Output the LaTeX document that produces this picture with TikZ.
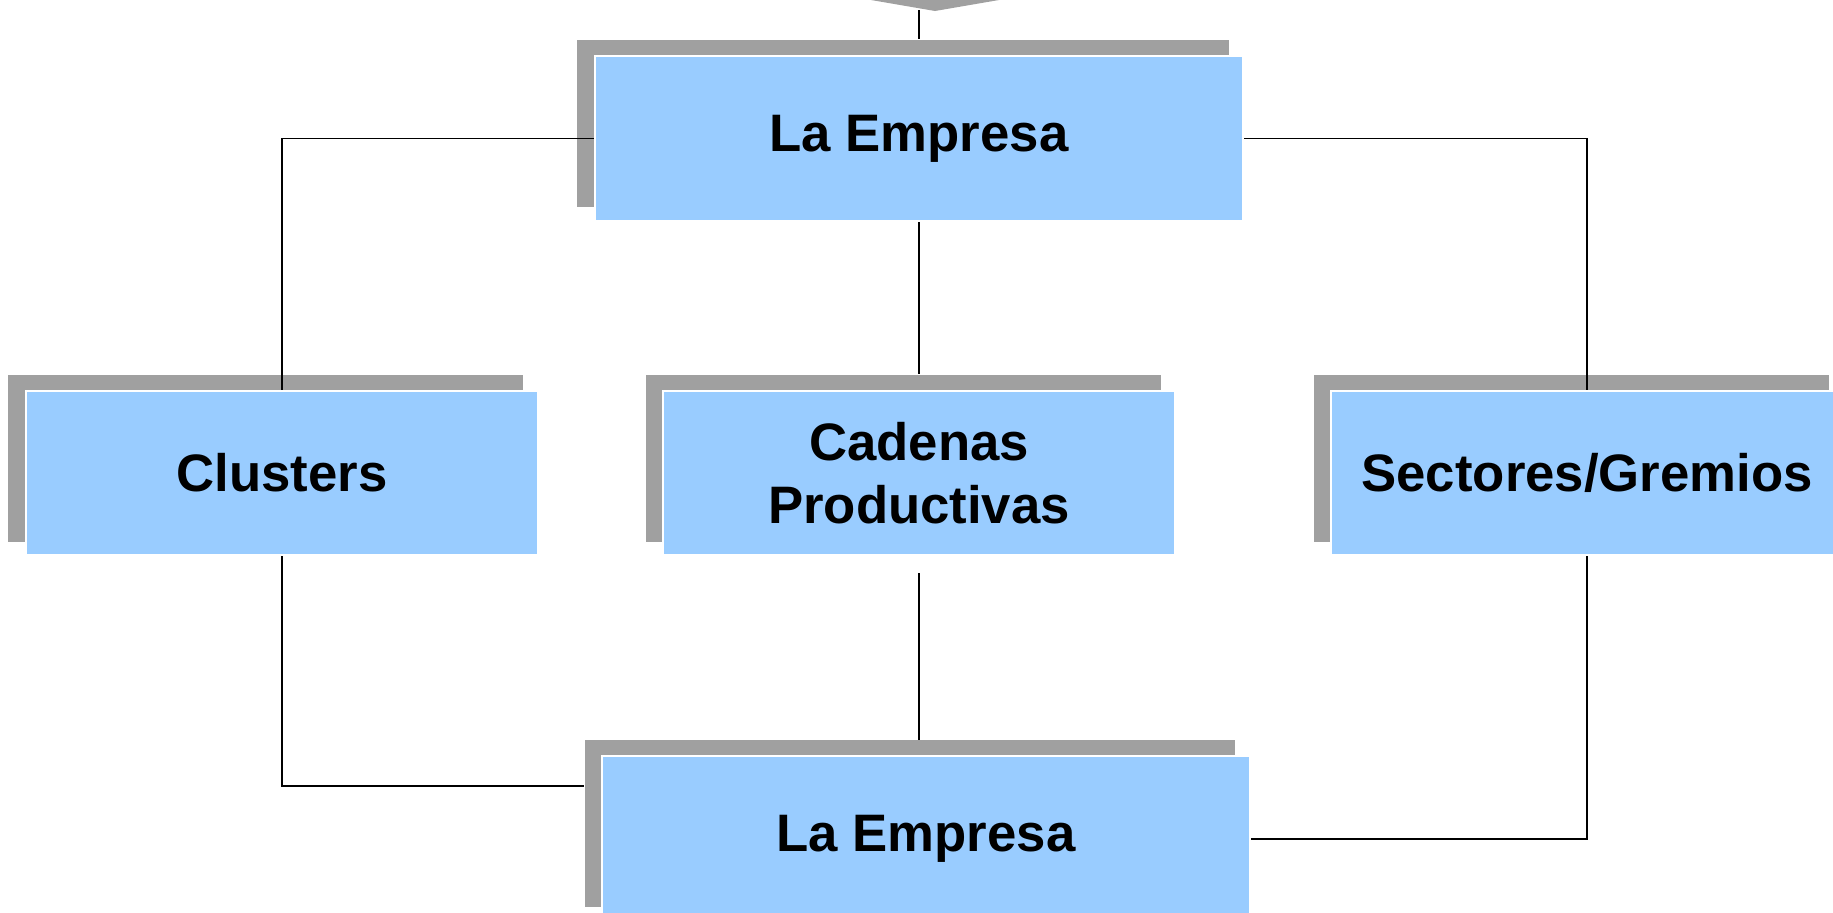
\documentclass[tikz,border=0pt]{standalone}
\usepackage{fontspec}
\setmainfont{Liberation Sans}
\usepackage{xcolor}
\definecolor{boxblue}{HTML}{99CCFF}
\definecolor{shadegray}{HTML}{A0A0A0}
\usetikzlibrary{positioning, calc, backgrounds}

\begin{document}
\begin{tikzpicture}[
  box/.style={fill=boxblue, draw=white, line width=0.6pt, minimum width=5.12cm, minimum height=1.64cm, inner sep=0pt, align=center, font=\bfseries\fontsize{15}{18}\selectfont},
  wide/.style={box, minimum width=6.48cm, minimum height=1.65cm},
  shade/.style={fill=shadegray, inner sep=0pt, minimum height=1.67cm},
  link/.style={draw=black, line width=0.5pt},
]
\useasboundingbox (0,0) rectangle (18.33,-9.12);
\clip (0,0) rectangle (18.33,-9.12);

\node[wide] (top) at (9.19,-1.385) {La Empresa};
\node[box, below=1.68cm of top] (chain) {Cadenas\\Productivas};
\node[box, left=1.23cm of chain] (clus) {Clusters};
\node[box, right=1.54cm of chain] (sect) {Sectores/Gremios};
\node[wide, below=1.99cm of chain, xshift=0.07cm] (base) {La Empresa};

% Shadows behind the boxes
\begin{scope}[on background layer]
  \fill[white] (0,0) rectangle (18.33,-9.12);
  \foreach \n/\w in {top/6.52, chain/5.15, clus/5.15, sect/5.15, base/6.50}
    \node[shade, minimum width=\w cm] (\n-sh) at ([shift={(-0.16,0.15)}]\n.center) {};
\end{scope}

% Incoming arrow tip
\fill[shadegray] (8.71,0.2) -- (8.71,0) -- (9.35,-0.11) -- (9.99,0) -- (9.99,0.2) -- cycle;
\coordinate (in) at (9.19,-0.10);

% Connectors
\draw[link] (in) -- (in |- top-sh.north);
\draw[link] (top.west) -| (clus.north);
\draw[link] (top.east) -| (sect.north);
\draw[link] (top.south) -- (top.south |- chain-sh.north);
\draw[link] ([yshift=-0.17cm]chain.south) -- (chain.south |- base-sh.north);
\draw[link] (clus.south) |- ([yshift=0.38cm]base-sh.west);
\draw[link] (sect.south) |- (base.east);

\end{tikzpicture}
\end{document}
